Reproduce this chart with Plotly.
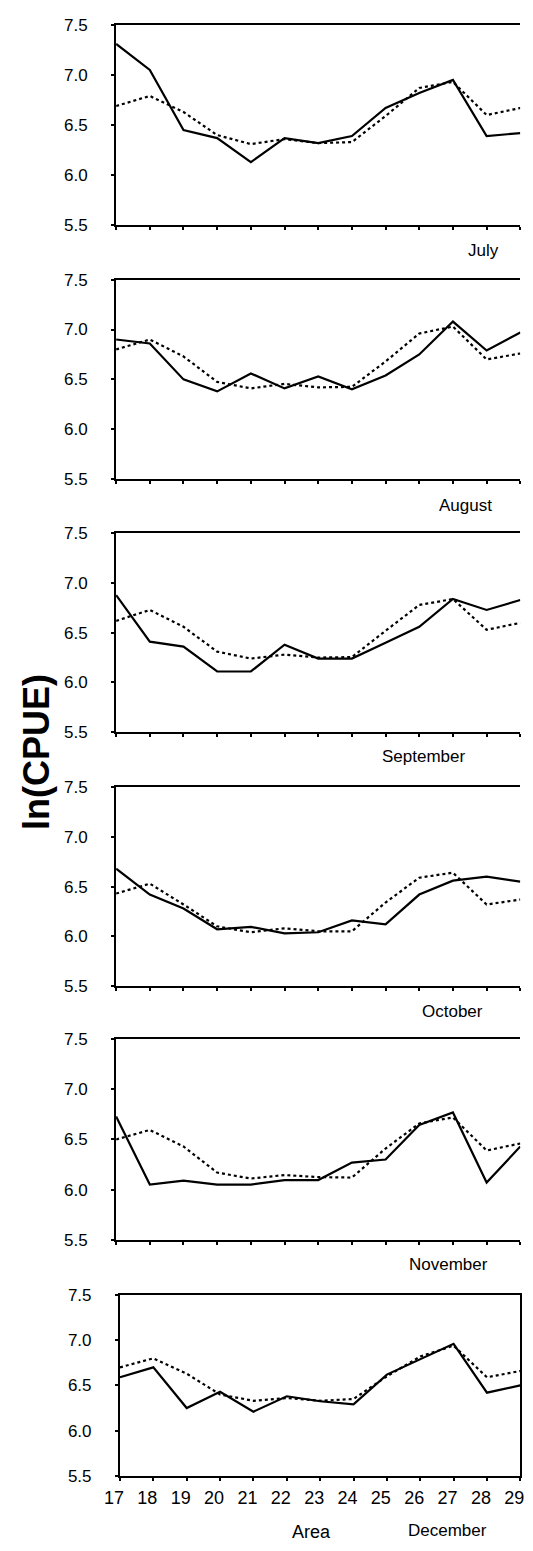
import plotly.graph_objects as go

areas = list(range(17, 30))
months = ["July", "August", "September", "October", "November", "December"]

july_solid = [7.31, 7.05, 6.45, 6.37, 6.13, 6.37, 6.32, 6.39, 6.67, 6.82, 6.95, 6.39, 6.42]
july_dotted = [6.69, 6.79, 6.63, 6.40, 6.31, 6.36, 6.32, 6.33, 6.59, 6.87, 6.93, 6.60, 6.67]

aug_solid = [6.90, 6.86, 6.50, 6.38, 6.56, 6.41, 6.53, 6.40, 6.54, 6.75, 7.08, 6.79, 6.97]
aug_dotted = [6.80, 6.90, 6.73, 6.475, 6.41, 6.455, 6.42, 6.425, 6.68, 6.96, 7.03, 6.70, 6.76]

sep_solid = [6.88, 6.41, 6.36, 6.11, 6.11, 6.38, 6.24, 6.24, 6.40, 6.56, 6.84, 6.73, 6.83]
sep_dotted = [6.62, 6.73, 6.56, 6.31, 6.24, 6.28, 6.25, 6.255, 6.52, 6.78, 6.84, 6.53, 6.60]

oct_solid = [6.68, 6.42, 6.28, 6.07, 6.095, 6.03, 6.04, 6.16, 6.12, 6.42, 6.56, 6.60, 6.55]
oct_dotted = [6.43, 6.53, 6.32, 6.10, 6.04, 6.08, 6.05, 6.05, 6.34, 6.59, 6.64, 6.32, 6.37]

nov_solid = [6.73, 6.05, 6.09, 6.05, 6.05, 6.095, 6.095, 6.27, 6.30, 6.645, 6.77, 6.07, 6.43]
nov_dotted = [6.50, 6.595, 6.43, 6.17, 6.11, 6.145, 6.125, 6.12, 6.41, 6.66, 6.72, 6.39, 6.46]

dec_solid = [6.59, 6.70, 6.25, 6.43, 6.21, 6.38, 6.325, 6.29, 6.62, 6.79, 6.96, 6.42, 6.50]
dec_dotted = [6.70, 6.80, 6.63, 6.40, 6.33, 6.36, 6.33, 6.35, 6.60, 6.82, 6.94, 6.59, 6.66]

solid_series = [july_solid, aug_solid, sep_solid, oct_solid, nov_solid, dec_solid]
dotted_series = [july_dotted, aug_dotted, sep_dotted, oct_dotted, nov_dotted, dec_dotted]

y_ticks = [5.5, 6.0, 6.5, 7.0, 7.5]

W, H = 533, 1551
# panel pixel extents (top, bottom) and (left, right)
panel_y = [(16, 219), (274, 476), (531, 732), (788, 989), (1043, 1246), (1302, 1485)]
panel_x = [(104, 524)] * 5 + [(108, 524)]
label_y = [245, 503, 757, 1015, 1271, 1540]
label_x = [486, 467, 423, 453, 449, 448]

FONT = "Liberation Sans, Arial, sans-serif"

fig = go.Figure()
layout = dict(
    width=W, height=H,
    margin=dict(l=0, r=0, t=0, b=0),
    paper_bgcolor="white", plot_bgcolor="white",
    showlegend=False,
    font=dict(family=FONT, color="black", size=17),
)

annotations = []
for i in range(6):
    n = i + 1
    xa = "x" if n == 1 else f"x{n}"
    ya = "y" if n == 1 else f"y{n}"
    fig.add_trace(go.Scatter(x=areas, y=dotted_series[i], mode="lines",
                             line=dict(color="black", width=2.2, dash="dot"),
                             xaxis=xa, yaxis=ya))
    fig.add_trace(go.Scatter(x=areas, y=solid_series[i], mode="lines",
                             line=dict(color="black", width=2.2),
                             xaxis=xa, yaxis=ya))
    top, bot = panel_y[i]
    left, right = panel_x[i]
    last = (i == 5)
    layout["xaxis" if n == 1 else f"xaxis{n}"] = dict(
        domain=[left / W, right / W],
        anchor=ya,
        range=[16.999, 29.001],
        tickmode="array", tickvals=areas, ticktext=[str(a) for a in areas],
        showticklabels=last,
        ticks="outside", ticklen=3, tickwidth=1.5, tickcolor="black",
        showline=True, linecolor="black", linewidth=2,
        mirror=True,
        showgrid=False, zeroline=False,
        tickfont=dict(size=18, family=FONT),
        ticklabelstandoff=2,
        ticklabelshift=-6,
    )
    layout["yaxis" if n == 1 else f"yaxis{n}"] = dict(
        domain=[1 - bot / H, 1 - top / H],
        anchor=xa,
        range=[5.5, 7.5],
        tickmode="array", tickvals=y_ticks, ticktext=[f"{v:.1f}" for v in y_ticks],
        ticks="outside", ticklen=3, tickwidth=1.5, tickcolor="black",
        showline=True, linecolor="black", linewidth=2,
        mirror=True if last else False,
        showgrid=False, zeroline=False,
        tickfont=dict(size=17, family=FONT),
        ticklabelstandoff=20,
    )
    annotations.append(dict(
        text=months[i], x=label_x[i] / W, y=1 - label_y[i] / H,
        xref="paper", yref="paper", xanchor="center", yanchor="middle",
        showarrow=False, font=dict(size=17, family=FONT, color="black"),
    ))

annotations.append(dict(
    text="Area", x=307 / W, y=1 - 1542 / H, xref="paper", yref="paper",
    xanchor="center", yanchor="middle", showarrow=False,
    font=dict(size=18, family=FONT, color="black"),
))
annotations.append(dict(
    text="<b>ln(CPUE)</b>", x=22 / W, y=1 - 752 / H, xref="paper", yref="paper",
    xanchor="center", yanchor="middle", showarrow=False, textangle=-90,
    font=dict(size=36, family=FONT, color="black"),
))
layout["annotations"] = annotations

fig.update_layout(**layout)
fig.write_html("out.html")
